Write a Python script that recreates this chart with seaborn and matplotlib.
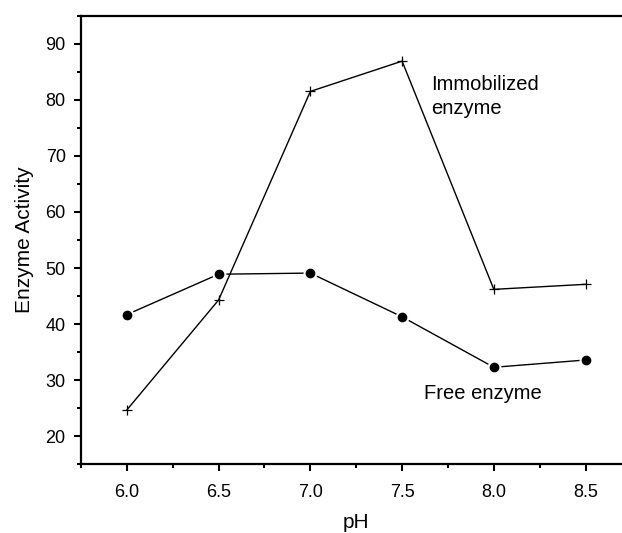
import matplotlib
matplotlib.use('Agg')
import matplotlib.pyplot as plt
from matplotlib.ticker import MultipleLocator
import seaborn as sns

ph = [6.0, 6.5, 7.0, 7.5, 8.0, 8.5]
free_enzyme = [41.7, 48.9, 49.1, 41.3, 32.3, 33.6]
immobilized_enzyme = [24.7, 44.3, 81.5, 86.9, 46.2, 47.1]
xticks = [6.0, 6.5, 7.0, 7.5, 8.0, 8.5]
yticks = [20, 30, 40, 50, 60, 70, 80, 90]

sns.set_style('ticks')
plt.rcParams['font.family'] = ['Liberation Sans', 'DejaVu Sans']
plt.rcParams['text.color'] = 'black'
plt.rcParams['axes.labelcolor'] = 'black'

fig = plt.figure(figsize=(6.22, 5.33), dpi=100)
ax = fig.add_axes([0.1302, 0.1289, 0.885, 0.8416])

sns.lineplot(x=ph, y=free_enzyme, ax=ax, color='black', lw=1.0,
             marker='o', markersize=8.5, markeredgecolor='white', markeredgewidth=1.5,
             markerfacecolor='black')
sns.lineplot(x=ph, y=immobilized_enzyme, ax=ax, color='black', lw=1.0,
             marker='+', markersize=7, markeredgewidth=0.9, markeredgecolor='black')

ax.set_xlim(5.75, 8.75)
ax.set_ylim(15, 95)
ax.set_xticks(xticks)
ax.set_xticklabels([f'{v:.1f}' for v in xticks])
ax.set_yticks(yticks)
ax.xaxis.set_minor_locator(MultipleLocator(0.25))
ax.yaxis.set_minor_locator(MultipleLocator(5))

for s in ['left', 'bottom', 'top']:
    ax.spines[s].set_linewidth(1.6)
    ax.spines[s].set_color('black')
ax.spines['right'].set_visible(False)

ax.tick_params(which='major', direction='out', length=5, width=1.5, labelsize=13, colors='black',
               labelcolor='black', pad=6)
ax.tick_params(which='minor', direction='out', length=3, width=1.5, colors='black')
ax.tick_params(axis='x', pad=9)

ax.set_xlabel('pH', fontsize=15, labelpad=9)
ax.set_ylabel('Enzyme Activity', fontsize=15, labelpad=8)

ax.text(7.659, 84.4, 'Immobilized\nenzyme', fontsize=14.5, va='top', ha='left', linespacing=1.3)
ax.text(7.622, 29.4, 'Free enzyme', fontsize=14.5, va='top', ha='left')

fig.savefig('out.png', dpi=100)
